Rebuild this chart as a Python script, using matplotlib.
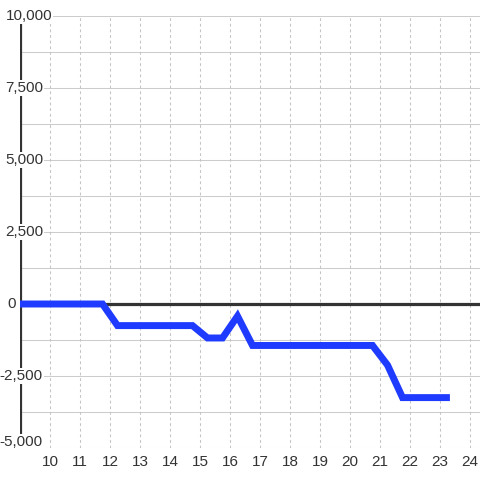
import matplotlib
matplotlib.use('Agg')
import matplotlib.pyplot as plt

hours = [9.0, 11.75, 12.25, 14.75, 15.25, 15.75, 16.25, 16.75, 20.75, 21.25, 21.75, 23.33]
values = [0, 0, -750, -750, -1180, -1180, -420, -1440, -1440, -2120, -3250, -3250]

x_ticks = list(range(10, 25))
y_ticks = [-5000, -2500, 0, 2500, 5000, 7500, 10000]
y_labels = ['-5,000', '-2,500', '0', '2,500', '5,000', '7,500', '10,000']

plt.rcParams['font.family'] = ['Liberation Sans', 'DejaVu Sans']
txt = '#333333'

fig = plt.figure(figsize=(4.8, 4.8), dpi=100)
ax = fig.add_axes([20 / 480, 32 / 480, 460 / 480, 432 / 480])
ax.set_xlim(9, 24.333)
ax.set_ylim(-5000, 10000)
for s in ax.spines.values():
    s.set_visible(False)

# grid
for yv in range(-5000, 10001, 1250):
    ax.axhline(yv, color='#cccccc', lw=0.75, zorder=1)
for xv in x_ticks:
    ax.axvline(xv, color='#c4c4c4', lw=0.75, ls=(0, (2.7, 2.7)), zorder=1)

ax.axhline(0, color='#333333', lw=2.3, zorder=3)
ax.axvline(9, ymin=12 / 432, ymax=424 / 432, color='#333333', lw=2.3, zorder=3)

ax.plot(hours, values, color='#1f3bff', lw=5, solid_capstyle='butt',
        solid_joinstyle='miter', zorder=4)

ax.set_xticks(x_ticks)
ax.set_xticklabels([str(v) for v in x_ticks], fontsize=11, color=txt)
ax.tick_params(axis='x', length=0, pad=5)
ax.set_yticks([])

# y labels with white background, overlapping the axis line
label_pos = {'10,000': (6, 'left', 0), '0': (16, 'right', 0), '-5,000': (43, 'right', -6)}
for v, lab in zip(y_ticks, y_labels):
    px, ha, dy = label_pos.get(lab, (43, 'right', 0))
    py = 304 - v / 1000 * 28.8 + dy
    fig.text(px / 480, 1 - py / 480, lab, ha=ha, va='center', fontsize=11,
             color=txt, zorder=10,
             bbox=dict(facecolor='white', edgecolor='none', pad=0.5))

fig.savefig('out.png', dpi=100)
